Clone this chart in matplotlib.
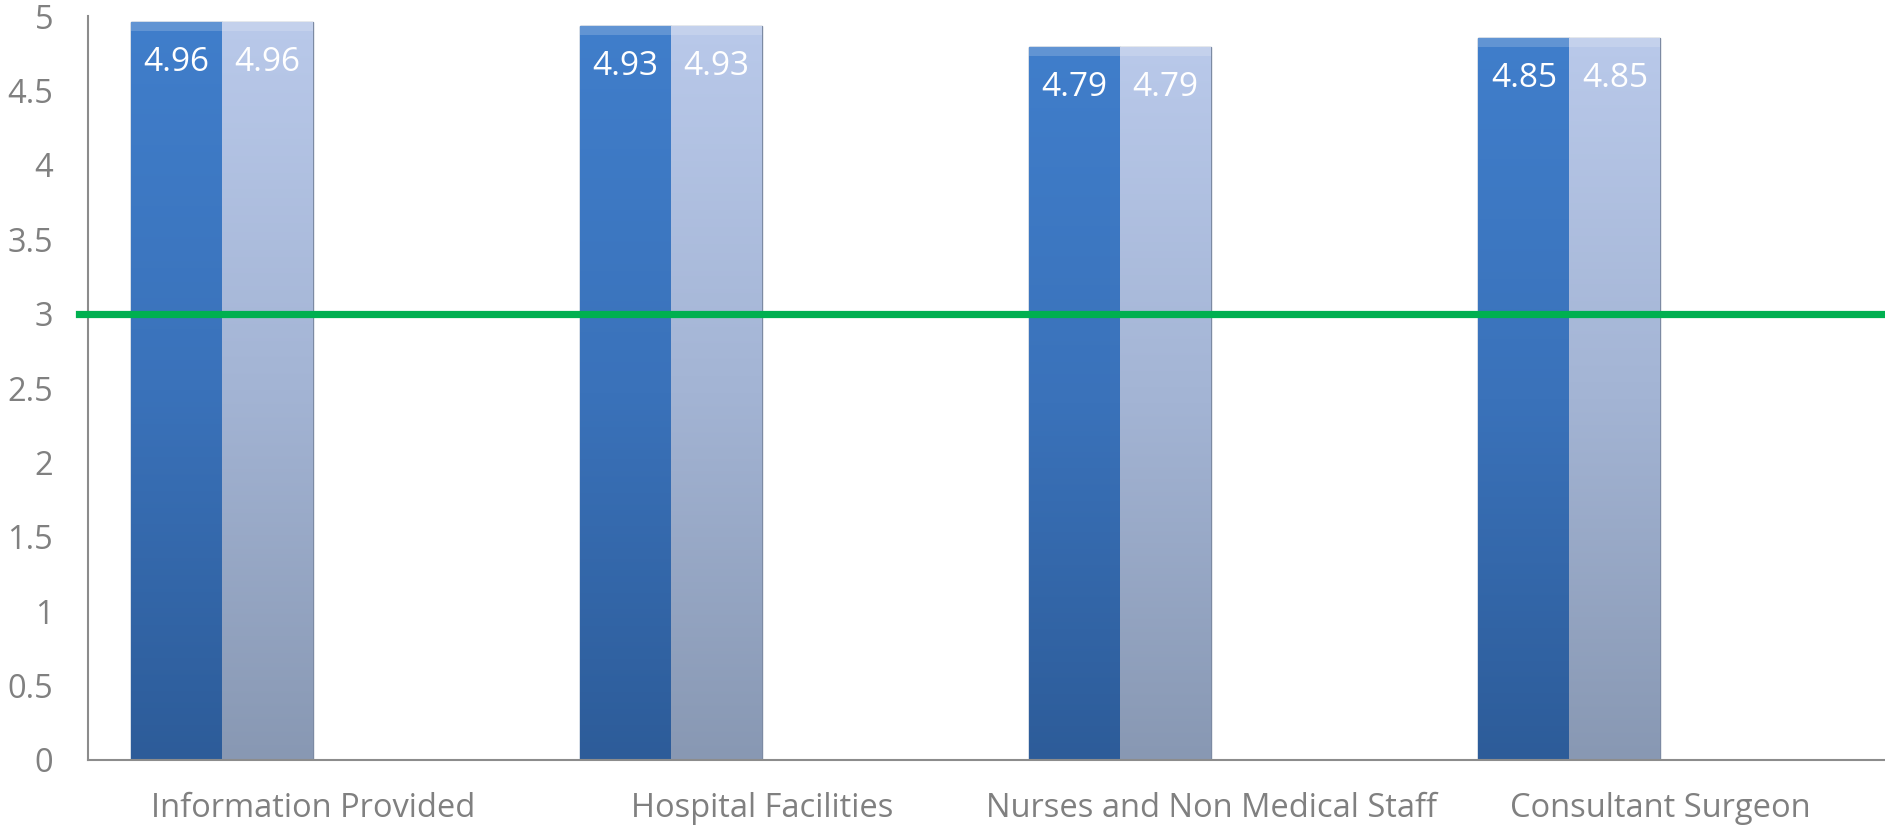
import numpy as np
import matplotlib
matplotlib.use("Agg")
import matplotlib.pyplot as plt
from matplotlib.colors import LinearSegmentedColormap

categories = ["Information Provided", "Hospital Facilities",
              "Nurses and Non Medical Staff", "Consultant Surgeon"]
series_a = [4.96, 4.93, 4.79, 4.85]
series_b = [4.96, 4.93, 4.79, 4.85]
threshold = 3
yticks = [0, 0.5, 1, 1.5, 2, 2.5, 3, 3.5, 4, 4.5, 5]
ytick_labels = ["0", "0.5", "1", "1.5", "2", "2.5", "3", "3.5", "4", "4.5", "5"]

plt.rcParams['font.family'] = ['Open Sans', 'DejaVu Sans']
GRAY = "#808080"

fig = plt.figure(figsize=(18.85, 8.26), dpi=100)
ax = fig.add_axes([88/1885, 1-760/826, 1-88/1885, (760-16)/826])

x = np.arange(len(categories))
w = 0.2025
bars_a = ax.bar(x - 1.5*w, series_a, width=w, color="#3B76C0",
                edgecolor="#2B5285", linewidth=1.0, zorder=2)
bars_b = ax.bar(x - 0.5*w, series_b, width=w, color="#A9BADC",
                edgecolor="#7C8AA3", linewidth=1.0, zorder=2)

cmap_a = LinearSegmentedColormap.from_list("a", ["#2D5C99", "#3A72BA", "#407ECB"])
cmap_b = LinearSegmentedColormap.from_list("b", ["#8898B3", "#A3B4D4", "#B9C9EA"])
grad = np.linspace(0, 1, 256).reshape(-1, 1)
for bars, cmap in ((bars_a, cmap_a), (bars_b, cmap_b)):
    for p in bars:
        x0, y0, bw, bh = p.get_x(), p.get_y(), p.get_width(), p.get_height()
        im = ax.imshow(grad, cmap=cmap, origin="lower", aspect="auto",
                       extent=(x0, x0 + bw, y0, y0 + bh), zorder=2.5)
        im.set_clip_path(p)
        # top bevel highlight
        ax.bar(x0 + bw/2, 0.06, bottom=y0 + bh - 0.06, width=bw,
               color="white", alpha=0.18, linewidth=0, zorder=2.6)

for bars, vals in ((bars_a, series_a), (bars_b, series_b)):
    for p, v in zip(bars, vals):
        ax.annotate(f"{v:.2f}", (p.get_x() + p.get_width()/2, v),
                    xytext=(0, -49), textcoords="offset pixels",
                    ha="center", va="baseline", color="white", fontsize=24, zorder=4)

ax.axhline(threshold, xmin=-9/1797, xmax=1, color="#00B050", linewidth=5.2,
           clip_on=False, zorder=3)

ax.set_xlim(-0.5, len(categories) - 0.5)
ax.set_ylim(0, 5)
ax.set_yticks(yticks)
ax.set_yticklabels(ytick_labels)
ax.set_xticks(x)
ax.set_xticklabels(categories)
ax.tick_params(axis="both", length=0, colors=GRAY, labelsize=23.5)
ax.tick_params(axis="y", pad=25)
ax.tick_params(axis="x", pad=23)
for s in ("top", "right"):
    ax.spines[s].set_visible(False)
for s in ("left", "bottom"):
    ax.spines[s].set_color("#8C8C8C")
    ax.spines[s].set_linewidth(1.5)

fig.savefig("out.png", dpi=100)
